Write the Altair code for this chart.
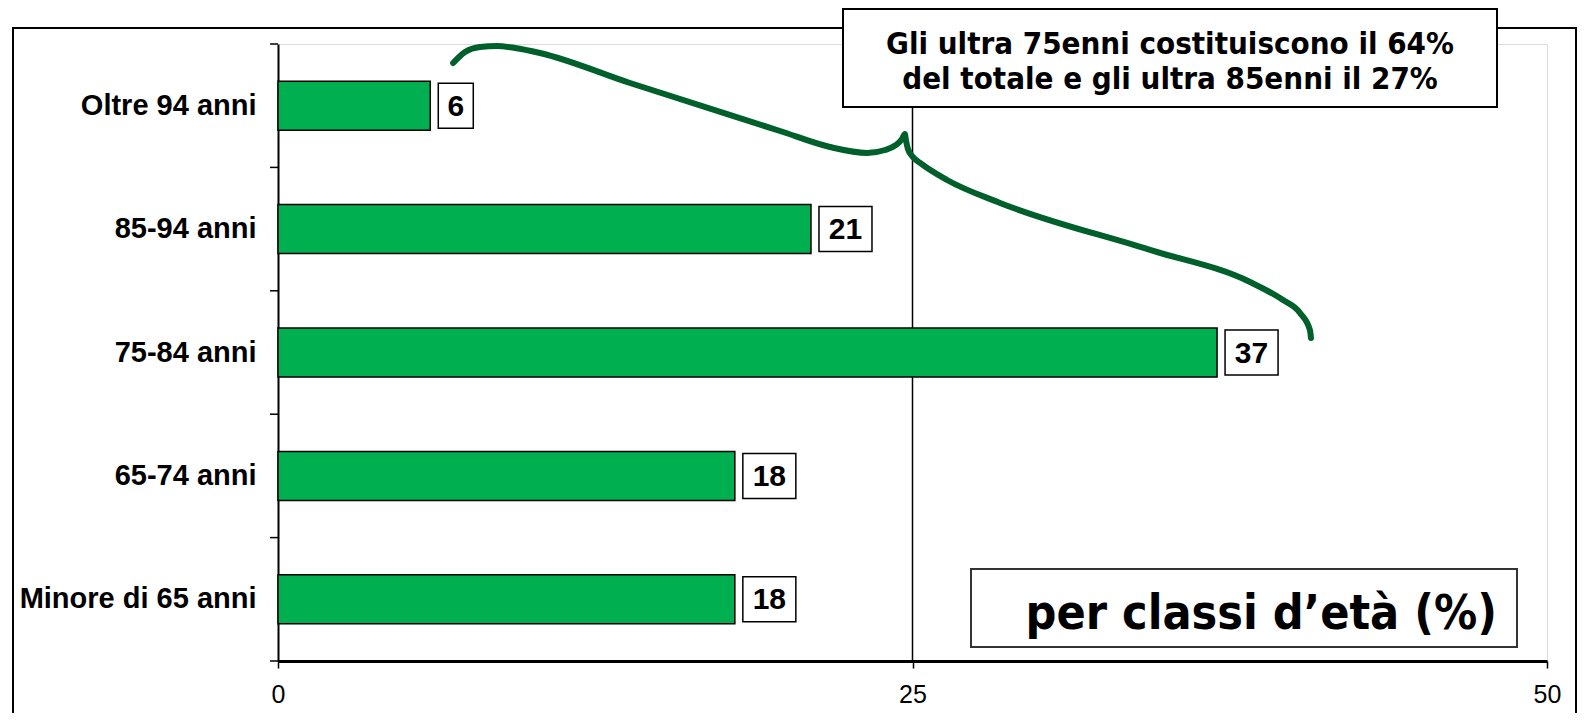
import altair as alt
import pandas as pd

# ---- data ----
categories = ["Oltre 94 anni", "85-94 anni", "75-84 anni", "65-74 anni", "Minore di 65 anni"]
values = [6, 21, 37, 18, 18]
x_ticks = [0, 25, 50]
category_bounds = [0, 1, 2, 3, 4, 5]
# curly brace drawn in data units (x in %, y in category-band units from bottom)
brace_x = [6.90, 7.37, 7.96, 8.63, 9.34, 10.32, 13.87, 19.78, 21.75, 23.21, 23.92, 24.35, 24.59,
           24.70, 24.74, 24.82, 25.02, 25.30, 26.36, 28.45, 34.36, 38.30, 39.60, 40.27, 40.66, 40.70]
brace_y = [4.846, 4.935, 4.976, 4.984, 4.968, 4.927, 4.684, 4.295, 4.165, 4.117, 4.141, 4.182, 4.231,
           4.270, 4.222, 4.149, 4.084, 4.036, 3.898, 3.712, 3.331, 3.071, 2.925, 2.820, 2.682, 2.618]
note_lines = ["Gli ultra 75enni costituiscono il 64%", "del totale e gli ultra 85enni il 27%"]
title_text = "per classi d’età (%)"

W, H = 1269, 617
PX = W / 50.0  # pixels per unit

df = pd.DataFrame({"cat": categories, "val": values})
df_bounds = pd.DataFrame({"b": category_bounds})
df_brace = pd.DataFrame({"bx": brace_x, "by": brace_y, "i": list(range(len(brace_x)))})
one = pd.DataFrame({"a": [0]})

xscale = alt.Scale(domain=[0, 50], nice=False, zero=True)
xaxis = alt.Axis(values=x_ticks, title=None, grid=False, domainColor="black", domainWidth=3,
                 tickColor="black", tickSize=7, tickWidth=1.5, labelFont="Liberation Sans",
                 labelFontSize=25, labelColor="black", labelPadding=14, labelFlush=False,
                 labelOverlap=False, labelBound=False)

def X(field):
    return alt.X(field, type="quantitative", scale=xscale, axis=xaxis)

yband = alt.Y("cat:N", sort=categories,
              scale=alt.Scale(paddingInner=0.603, paddingOuter=0.3015),
              axis=alt.Axis(title=None, ticks=False, domainColor="black", domainWidth=2,
                            labelFont="Liberation Sans", labelFontSize=29, labelFontWeight="bold",
                            labelColor="black", labelPadding=22, labelLimit=400))

# outer frame
frame = alt.Chart(one).mark_rect(fill=None, stroke="black", strokeWidth=2).encode(
    x=alt.value(-265), x2=alt.value(1298), y=alt.value(-16), y2=alt.value(700))

grid = alt.Chart(pd.DataFrame({"g": [25]})).mark_rule(color="black", strokeWidth=1.5).encode(x=X("g"))

bars = alt.Chart(df).mark_bar(color="#00B050", stroke="black", strokeWidth=1.5).encode(
    x=X("val"), y=yband)

boxes = alt.Chart(df).transform_calculate(
    x0=f"datum.val + 8/{PX}",
    x1=f"datum.val + 8/{PX} + (datum.val < 10 ? 35 : 53)/{PX}",
).mark_bar(fill="white", stroke="black", strokeWidth=1.5, height=45).encode(
    x=X("x0"), x2="x1:Q", y=yband)

labels = alt.Chart(df).transform_calculate(
    xm=f"datum.val + 8/{PX} + (datum.val < 10 ? 35 : 53)/{PX}/2",
).mark_text(font="Liberation Sans", fontSize=30, fontWeight="bold", color="black",
            baseline="middle", align="center", dy=1).encode(
    x=X("xm"), y=yband, text="val:Q")

band_layer = alt.layer(bars, boxes, labels)

yq = alt.Y("b:Q", scale=alt.Scale(domain=[0, 5], nice=False, zero=False), axis=None)
yticks = alt.Chart(df_bounds).mark_rule(color="black", strokeWidth=1.5).encode(
    x=alt.value(-8), x2=alt.value(0), y=yq)

brace = alt.Chart(df_brace).mark_line(color="#00602B", strokeWidth=6, interpolate="monotone",
                                      strokeCap="round", strokeJoin="round").encode(
    x=X("bx"), y=alt.Y("by:Q", scale=alt.Scale(domain=[0, 5], nice=False, zero=False), axis=None),
    order="i:Q")

q_layer = alt.layer(yticks, brace)

note_box = alt.Chart(one).mark_rect(fill="white", stroke="black", strokeWidth=2).encode(
    x=alt.value(565), x2=alt.value(1219), y=alt.value(-35), y2=alt.value(63))
note1 = alt.Chart(one).mark_text(text=note_lines[0], font="DejaVu Sans Condensed", fontWeight="bold",
                                 fontSize=31, color="black", align="center", baseline="middle").encode(
    x=alt.value(892), y=alt.value(1))
note2 = alt.Chart(one).mark_text(text=note_lines[1], font="DejaVu Sans Condensed", fontWeight="bold",
                                 fontSize=31, color="black", align="center", baseline="middle").encode(
    x=alt.value(892), y=alt.value(36))

title_box = alt.Chart(one).mark_rect(fill="white", stroke="#333333", strokeWidth=2).encode(
    x=alt.value(693), x2=alt.value(1239), y=alt.value(525), y2=alt.value(603))
title = alt.Chart(one).mark_text(text=title_text, font="DejaVu Sans Condensed", fontWeight="bold",
                                 fontSize=48, color="black", align="right", baseline="middle").encode(
    x=alt.value(1219), y=alt.value(571))

chart = alt.layer(
    frame, grid, band_layer, q_layer, note_box, note1, note2, title_box, title
).resolve_scale(y="independent").properties(
    width=W, height=H,
    autosize=alt.AutoSizeParams(type="none"),
    padding={"left": 270, "top": 36, "right": 30, "bottom": 52},
).configure_view(
    fill="#F2F2F2", stroke="#8C8C8C", strokeWidth=1.5
).configure(background="white")

chart.save("out.html", embed_options={"renderer": "svg", "actions": False})
